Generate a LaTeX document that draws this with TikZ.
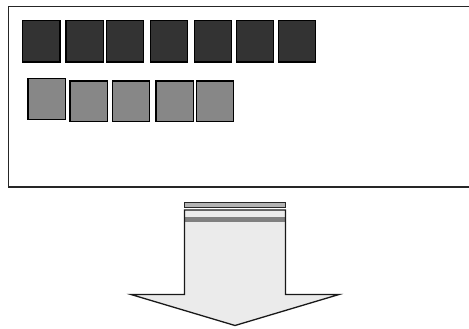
\documentclass[tikz,border=0pt]{standalone}
\begin{document}
\begin{tikzpicture}[x=1pt,y=-1pt]
\tikzset{dark/.style={draw=black, fill=black!80, line width=1.2pt, minimum width=37.5pt, minimum height=41.5pt, inner sep=0pt},
grey/.style={draw=black, fill=black!47, line width=1.2pt, minimum width=37.3pt, minimum height=40.6pt, inner sep=0pt}}
\useasboundingbox (0,0) rectangle (469,329);
\clip (0,0) rectangle (469,329);
\draw[black!85, line width=1.3pt] (8.5,6.5) rectangle (490,187);
\node[dark] (d1) at (41.2,41.2) {};
\node[dark] (d2) at (84.7,41.2) {};
\node[dark] (d3) at (124.9,41.2) {};
\node[dark] (d4) at (168.9,41.2) {};
\node[dark] (d5) at (212.9,41.2) {};
\node[dark] (d6) at (254.9,41.2) {};
\node[dark] (d7) at (296.9,41.2) {};
\node[grey] (g1) at (46.7,99) {};
\node[grey] (g2) at (88.7,101.4) {};
\node[grey] (g3) at (130.9,101.4) {};
\node[grey] (g4) at (174.7,101.4) {};
\node[grey] (g5) at (214.9,101.4) {};
% arrow
\draw[black!85, fill=black!30, line width=1pt] (184.5,202.9) rectangle (285.5,207.4);
\fill[black!8] (184.5,210) -- (285.5,210) -- (285.5,294.5) -- (339,294.5) -- (235,325.5) -- (131,294.5) -- (184.5,294.5) -- cycle;
\fill[black!50] (184.5,217.3) rectangle (285.5,221.7);
\draw[black!90, line width=1.3pt, line join=miter] (184.5,210) -- (285.5,210) -- (285.5,294.5) -- (339,294.5) -- (235,325.5) -- (131,294.5) -- (184.5,294.5) -- cycle;
\end{tikzpicture}
\end{document}
